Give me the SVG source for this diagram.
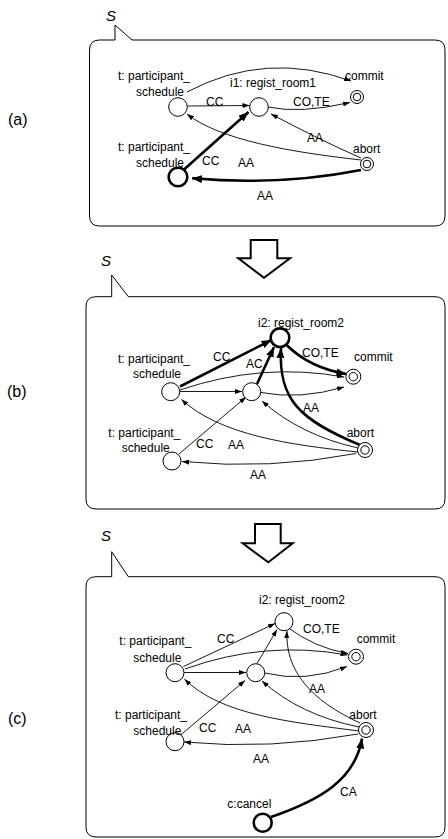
<svg xmlns="http://www.w3.org/2000/svg" width="448" height="839" viewBox="0 0 448 839">
  <style>
    text { font-family: "Liberation Sans", Arial, sans-serif; font-size: 12px; fill: #000; }
    .tag { font-size: 16px; }
    .sl { font-size: 15px; font-style: italic; }
    .frame { fill: #fff; stroke: #000; stroke-width: 1; }
    .step { fill: #fff; stroke: #000; stroke-width: 2; stroke-linejoin: miter; }
    .e { fill: none; stroke: #000; stroke-width: 0.9; marker-end: url(#ah); }
    .eb { fill: none; stroke: #000; stroke-width: 2.6; marker-end: url(#ahb); }
    .n { fill: #fff; stroke: #000; stroke-width: 1; }
    .nb { fill: #fff; stroke: #000; stroke-width: 2.6; }
  </style>
  <defs>
    <marker id="ah" markerUnits="userSpaceOnUse" markerWidth="7" markerHeight="5" refX="7" refY="2.5" orient="auto">
      <path d="M0,0 L7,2.5 L0,5 Z" fill="#000"/>
    </marker>
    <marker id="ahb" markerUnits="userSpaceOnUse" markerWidth="10" markerHeight="8" refX="10" refY="4" orient="auto">
      <path d="M0,0 L10,4 L0,8 Z" fill="#000"/>
    </marker>
  </defs>
  <rect width="448" height="839" fill="#fff"/>

  <!-- panel tags -->
  <text class="tag" x="8" y="125">(a)</text>
  <text class="tag" x="7" y="397">(b)</text>
  <text class="tag" x="8" y="724">(c)</text>

  <!-- state frames with callout tails -->
  <g id="frame-a">
    <path class="frame" d="M99.5,40 L115,40 L115,25 L132,40 L435,40 Q445,40 445,50 L445,216 Q445,226 435,226 L99.5,226 Q89.5,226 89.5,216 L89.5,50 Q89.5,40 99.5,40 Z"/>
    <text class="sl" x="106" y="21">S</text>
  </g>
  <g id="frame-b">
    <path class="frame" d="M96,296.7 L111.7,296.7 L111.7,275 L128.3,296.7 L435,296.7 Q445,296.7 445,306.7 L445,499 Q445,509 435,509 L96,509 Q86,509 86,499 L86,306.7 Q86,296.7 96,296.7 Z"/>
    <text class="sl" x="101" y="266">S</text>
  </g>
  <g id="frame-c">
    <path class="frame" d="M96,576.7 L111.7,576.7 L111.7,551.7 L128.3,576.7 L435,576.7 Q445,576.7 445,586.7 L445,827 Q445,837 435,837 L96,837 Q86,837 86,827 L86,586.7 Q86,576.7 96,576.7 Z"/>
    <text class="sl" x="101" y="541">S</text>
  </g>

  <!-- transition arrows between states -->
  <g id="step-ab">
    <path class="step" d="M250.7,240 L277.3,240 L277.3,258.3 L290,258.3 L264,277.7 L238.3,258.3 L250.7,258.3 Z"/>
  </g>
  <g id="step-bc">
    <path class="step" d="M255,524 L280.7,524 L280.7,543.3 L292.7,543.3 L268.3,562.3 L242.7,543.3 L255,543.3 Z"/>
  </g>

  <!-- connectors -->
  <g id="connectors">
    <!-- (a) -->
    <path class="e" d="M187,92 Q266,50 351,81"/>
    <path class="e" d="M188,106 L249.5,105.5"/>
    <path class="e" d="M268,107 Q300,114 350,102.5"/>
    <path class="e" d="M361,158 Q320,140 271,114"/>
    <path class="e" d="M361,160 C290,152 220,140 187,114"/>
    <path class="eb" d="M184,169.5 L248.5,112"/>
    <path class="eb" d="M361,170 Q280,186 192,178.3"/>
    <text x="206" y="106">CC</text>
    <text x="293" y="106">CO,TE</text>
    <text x="307" y="141.7">AA</text>
    <text x="202" y="165">CC</text>
    <text x="238" y="166.7">AA</text>
    <text x="257" y="200">AA</text>

    <!-- (b) -->
    <path class="eb" d="M180,386.5 L271.5,340"/>
    <path class="e" d="M180,390 Q262,362 344,377"/>
    <path class="e" d="M180,391.5 L242,391.5"/>
    <path class="eb" d="M257,384 L274,347"/>
    <path class="e" d="M261,392.5 Q300,400 344,387"/>
    <path class="eb" d="M286.5,345 Q310,368 346.5,374"/>
    <path class="eb" d="M360,445 C300,420 278,400 281,348"/>
    <path class="e" d="M358,448 Q300,435 262,401"/>
    <path class="e" d="M358,452 C290,445 220,435 181.5,399.5"/>
    <path class="e" d="M179,454 L246,397"/>
    <path class="e" d="M356,453.5 Q270,470 182,461.5"/>
    <text x="213" y="360.7">CC</text>
    <text x="246" y="368.3">AC</text>
    <text x="302" y="357">CO,TE</text>
    <text x="303" y="411.7">AA</text>
    <text x="196" y="448">CC</text>
    <text x="228" y="449">AA</text>
    <text x="250" y="479">AA</text>

    <!-- (c) -->
    <path class="e" d="M183.5,666.5 L275,623.5"/>
    <path class="e" d="M185,669 Q265,640 347.5,655"/>
    <path class="e" d="M184,672.5 L246,672.5"/>
    <path class="e" d="M257,663.5 L277,629.5"/>
    <path class="e" d="M265,673 Q305,683 347,666.5"/>
    <path class="e" d="M287,627 Q315,648 348,653.5"/>
    <path class="e" d="M360,723 C310,700 285,670 287,631"/>
    <path class="e" d="M359,727 Q300,715 262,681"/>
    <path class="e" d="M359,731 C290,722 220,715 184.5,679"/>
    <path class="e" d="M180,735.5 L245,680.5"/>
    <path class="e" d="M358,734 Q270,750 184,742"/>
    <path class="eb" d="M271,817 C320,800 355,780 362,738.5"/>
    <text x="217" y="643">CC</text>
    <text x="303" y="632.7">CO,TE</text>
    <text x="309" y="692.7">AA</text>
    <text x="199" y="731.7">CC</text>
    <text x="235" y="732.7">AA</text>
    <text x="253" y="763.3">AA</text>
    <text x="340" y="796">CA</text>
  </g>

  <!-- (a) nodes -->
  <g id="a-t1">
    <circle class="n" cx="178" cy="107" r="9.3"/>
    <text x="118" y="80">t: participant_</text>
    <text x="136" y="96">schedule</text>
  </g>
  <g id="a-i1">
    <circle class="n" cx="259" cy="107" r="9.3"/>
    <text x="230" y="87">i1: regist_room1</text>
  </g>
  <g id="a-commit">
    <circle class="n" cx="357" cy="97" r="6.5"/>
    <circle class="n" cx="357" cy="97" r="3.8"/>
    <text x="345" y="80">commit</text>
  </g>
  <g id="a-t2">
    <circle class="nb" cx="178" cy="177" r="9.3"/>
    <text x="118" y="151">t: participant_</text>
    <text x="136" y="167">schedule</text>
  </g>
  <g id="a-abort">
    <circle class="n" cx="367" cy="164" r="6.5"/>
    <circle class="n" cx="367" cy="164" r="3.8"/>
    <text x="353" y="152.7">abort</text>
  </g>

  <!-- (b) nodes -->
  <g id="b-i2">
    <circle class="nb" cx="280" cy="337.7" r="9.3"/>
    <text x="258" y="326.5">i2: regist_room2</text>
  </g>
  <g id="b-t1">
    <circle class="n" cx="170.7" cy="391.7" r="9"/>
    <text x="118" y="362.7">t: participant_</text>
    <text x="133" y="378">schedule</text>
  </g>
  <g id="b-i1">
    <circle class="n" cx="251.7" cy="391.7" r="9"/>
  </g>
  <g id="b-commit">
    <circle class="n" cx="353.3" cy="376.7" r="7.5"/>
    <circle class="n" cx="353.3" cy="376.7" r="4.2"/>
    <text x="354" y="360.7">commit</text>
  </g>
  <g id="b-t2">
    <circle class="n" cx="172" cy="461" r="9"/>
    <text x="108.3" y="436.7">t: participant_</text>
    <text x="121.7" y="451.7">schedule</text>
  </g>
  <g id="b-abort">
    <circle class="n" cx="365" cy="450" r="7.5"/>
    <circle class="n" cx="365" cy="450" r="4.2"/>
    <text x="346.7" y="436.7">abort</text>
  </g>

  <!-- (c) nodes -->
  <g id="c-i2">
    <circle class="n" cx="284" cy="621.7" r="9"/>
    <text x="259" y="604.3">i2: regist_room2</text>
  </g>
  <g id="c-t1">
    <circle class="n" cx="175" cy="672.7" r="9"/>
    <text x="119.3" y="645">t: participant_</text>
    <text x="133.3" y="661.7">schedule</text>
  </g>
  <g id="c-i1">
    <circle class="n" cx="255.7" cy="672.7" r="9"/>
  </g>
  <g id="c-commit">
    <circle class="n" cx="356" cy="656.7" r="7.5"/>
    <circle class="n" cx="356" cy="656.7" r="4.2"/>
    <text x="356.7" y="642.7">commit</text>
  </g>
  <g id="c-t2">
    <circle class="n" cx="175" cy="741.7" r="9"/>
    <text x="115" y="719.3">t: participant_</text>
    <text x="133.3" y="735">schedule</text>
  </g>
  <g id="c-abort">
    <circle class="n" cx="366" cy="730" r="7.5"/>
    <circle class="n" cx="366" cy="730" r="4.2"/>
    <text x="349.3" y="719.3">abort</text>
  </g>
  <g id="c-cancel">
    <circle class="nb" cx="262.7" cy="822.7" r="9"/>
    <text x="227.3" y="807.7">c:cancel</text>
  </g>
</svg>
